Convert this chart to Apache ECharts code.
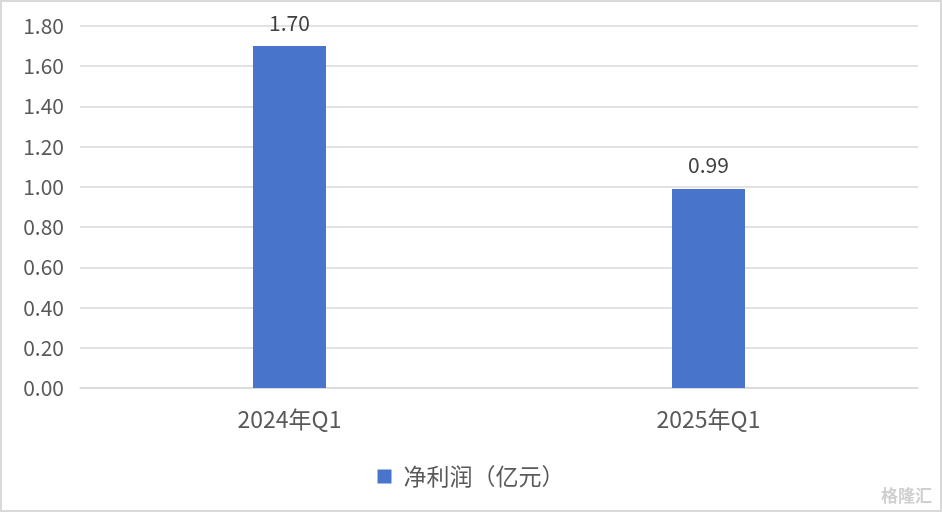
<!DOCTYPE html>
<html>
<head>
<meta charset="utf-8">
<script src="https://cdn.jsdelivr.net/npm/echarts@6/dist/echarts.min.js"></script>
<style>
  html, body { margin: 0; padding: 0; background: #fff; }
  #chart { width: 942px; height: 512px; box-sizing: border-box; border: 2px solid #d9d9d9; }
</style>
</head>
<body>
<div id="chart"></div>
<script>
var categories = ['2024年Q1', '2025年Q1'];
var profit = [1.70, 0.99];
var seriesName = '净利润（亿元）';

var chart = echarts.init(document.getElementById('chart'));
var font = '"Noto Sans CJK SC", "Open Sans", sans-serif';

chart.setOption({
  animation: false,
  textStyle: { fontFamily: font },
  grid: { left: 78, right: 22, top: 24, bottom: 122 },
  legend: {
    data: [seriesName],
    bottom: 17,
    left: 'center',
    itemWidth: 14,
    itemHeight: 14,
    icon: 'rect',
    textStyle: { fontSize: 23, color: '#595959', fontFamily: font, padding: [0, 0, 0, 7] }
  },
  xAxis: {
    type: 'category',
    data: categories,
    axisTick: { show: false },
    axisLine: { lineStyle: { color: '#d9d9d9', width: 1.5 } },
    axisLabel: { fontSize: 23, color: '#595959', margin: 20 }
  },
  yAxis: {
    type: 'value',
    min: 0,
    max: 1.8,
    interval: 0.2,
    axisLine: { show: false },
    axisTick: { show: false },
    splitLine: { lineStyle: { color: '#d9d9d9', width: 1.5 } },
    axisLabel: {
      fontSize: 21,
      color: '#595959',
      margin: 16,
      formatter: function (v) { return v.toFixed(2); }
    }
  },
  series: [{
    name: seriesName,
    type: 'bar',
    data: profit,
    barWidth: 73,
    itemStyle: { color: '#4874cb' },
    label: {
      show: true,
      position: 'top',
      distance: 13,
      fontSize: 21,
      color: '#404040',
      formatter: function (p) { return p.value.toFixed(2); }
    }
  }],
  graphic: [{
    type: 'text',
    right: 8,
    bottom: 6,
    style: { text: '格隆汇', fontSize: 17, fill: '#d0d0d0', fontFamily: font, fontWeight: 'bold' }
  }]
});
</script>
</body>
</html>
